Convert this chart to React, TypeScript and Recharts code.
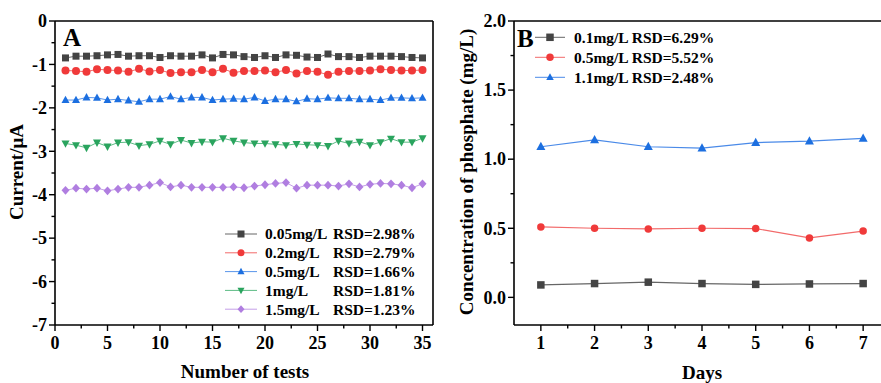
import React from "react";
import { LineChart, Line, XAxis, YAxis, ReferenceLine } from "recharts";

const FONT = '"Liberation Serif", "Times New Roman", serif';

// ---- panel A: repeated tests ----
const testNumbers = [
  1, 2, 3, 4, 5, 6, 7, 8, 9, 10, 11, 12, 13, 14, 15, 16, 17, 18,
  19, 20, 21, 22, 23, 24, 25, 26, 27, 28, 29, 30, 31, 32, 33, 34, 35,
];
const conc005 = [
  -0.85, -0.81, -0.81, -0.8, -0.78, -0.77, -0.81, -0.8, -0.8, -0.84, -0.8, -0.81,
  -0.81, -0.78, -0.85, -0.77, -0.78, -0.82, -0.84, -0.8, -0.84, -0.78, -0.79, -0.83,
  -0.84, -0.76, -0.82, -0.82, -0.84, -0.81, -0.81, -0.81, -0.82, -0.84, -0.85,
];
const conc02 = [
  -1.14, -1.15, -1.17, -1.11, -1.13, -1.14, -1.17, -1.1, -1.16, -1.13, -1.2, -1.18,
  -1.18, -1.13, -1.18, -1.1, -1.19, -1.15, -1.15, -1.14, -1.18, -1.13, -1.21, -1.15,
  -1.17, -1.24, -1.17, -1.15, -1.15, -1.14, -1.11, -1.13, -1.14, -1.14, -1.13,
];
const conc05 = [
  -1.82, -1.82, -1.76, -1.77, -1.82, -1.8, -1.83, -1.86, -1.8, -1.8, -1.74, -1.8,
  -1.76, -1.76, -1.82, -1.8, -1.79, -1.8, -1.76, -1.84, -1.8, -1.8, -1.85, -1.79,
  -1.8, -1.77, -1.78, -1.78, -1.8, -1.8, -1.82, -1.77, -1.77, -1.78, -1.77,
];
const conc1 = [
  -2.82, -2.86, -2.92, -2.8, -2.89, -2.8, -2.79, -2.87, -2.84, -2.76, -2.84, -2.74,
  -2.81, -2.78, -2.79, -2.7, -2.76, -2.8, -2.82, -2.82, -2.84, -2.86, -2.83, -2.85,
  -2.86, -2.88, -2.76, -2.82, -2.78, -2.86, -2.79, -2.71, -2.79, -2.79, -2.7,
];
const conc15 = [
  -3.9, -3.85, -3.87, -3.85, -3.91, -3.87, -3.83, -3.83, -3.78, -3.72, -3.82, -3.78,
  -3.83, -3.83, -3.83, -3.83, -3.82, -3.84, -3.8, -3.77, -3.74, -3.72, -3.85, -3.78,
  -3.78, -3.78, -3.8, -3.75, -3.82, -3.76, -3.74, -3.75, -3.78, -3.84, -3.75,
];
const xTicksA = [0, 2.5, 5, 7.5, 10, 12.5, 15, 17.5, 20, 22.5, 25, 27.5, 30, 32.5, 35];
const xMajorA = [0, 5, 10, 15, 20, 25, 30, 35];
const yTicksA = [-7, -6.5, -6, -5.5, -5, -4.5, -4, -3.5, -3, -2.5, -2, -1.5, -1, -0.5, 0];
const yMajorA = [-7, -6, -5, -4, -3, -2, -1, 0];

// ---- panel B: stability over days ----
const days = [1, 2, 3, 4, 5, 6, 7];
const phos01 = [0.09, 0.1, 0.11, 0.1, 0.094, 0.097, 0.1];
const phos05 = [0.51, 0.5, 0.495, 0.5, 0.498, 0.43, 0.48];
const phos11 = [1.09, 1.14, 1.09, 1.08, 1.12, 1.13, 1.15];
const xTicksB = [1, 1.5, 2, 2.5, 3, 3.5, 4, 4.5, 5, 5.5, 6, 6.5, 7];
const xMajorB = [1, 2, 3, 4, 5, 6, 7];
const yTicksB = [0, 0.25, 0.5, 0.75, 1, 1.25, 1.5, 1.75, 2];
const yMajorB = [0, 0.5, 1, 1.5, 2];

type Shape = "square" | "circle" | "triangle" | "down" | "diamond";

const seriesA = [
  { key: "c005", name: "0.05mg/L", rsd: "RSD=2.98%", values: conc005, fill: "#444444", line: "#666666", shape: "square" as Shape },
  { key: "c02", name: "0.2mg/L", rsd: "RSD=2.79%", values: conc02, fill: "#f03a3a", line: "#f26a6a", shape: "circle" as Shape },
  { key: "c05", name: "0.5mg/L", rsd: "RSD=1.66%", values: conc05, fill: "#1c6fe0", line: "#5a95ea", shape: "triangle" as Shape },
  { key: "c1", name: "1mg/L", rsd: "RSD=1.81%", values: conc1, fill: "#2aa45e", line: "#5cbb85", shape: "down" as Shape },
  { key: "c15", name: "1.5mg/L", rsd: "RSD=1.23%", values: conc15, fill: "#b07ee0", line: "#c49fe8", shape: "diamond" as Shape },
];

const seriesB = [
  { key: "p01", label: "0.1mg/L RSD=6.29%", values: phos01, fill: "#444444", line: "#666666", shape: "square" as Shape },
  { key: "p05", label: "0.5mg/L RSD=5.52%", values: phos05, fill: "#f03a3a", line: "#f26a6a", shape: "circle" as Shape },
  { key: "p11", label: "1.1mg/L RSD=2.48%", values: phos11, fill: "#1c6fe0", line: "#4a8ae8", shape: "triangle" as Shape },
];

const rowsA = testNumbers.map((n, i) => {
  const row: Record<string, number> = { n };
  seriesA.forEach((s) => (row[s.key] = s.values[i]));
  return row;
});

const rowsB = days.map((d, i) => {
  const row: Record<string, number> = { d };
  seriesB.forEach((s) => (row[s.key] = s.values[i]));
  return row;
});

function Marker({ cx, cy, shape, color, size }: { cx: number; cy: number; shape: Shape; color: string; size: number }) {
  const r = size / 2;
  if (cx == null || cy == null) return null;
  switch (shape) {
    case "square":
      return <rect x={cx - r} y={cy - r} width={size} height={size} fill={color} />;
    case "circle":
      return <circle cx={cx} cy={cy} r={r} fill={color} />;
    case "triangle":
      return <polygon points={`${cx},${cy - r * 1.1} ${cx + r},${cy + r * 0.75} ${cx - r},${cy + r * 0.75}`} fill={color} />;
    case "down":
      return <polygon points={`${cx},${cy + r * 1.1} ${cx + r},${cy - r * 0.75} ${cx - r},${cy - r * 0.75}`} fill={color} />;
    default:
      return <polygon points={`${cx},${cy - r * 1.1} ${cx + r},${cy} ${cx},${cy + r * 1.1} ${cx - r},${cy}`} fill={color} />;
  }
}

const axisStyle = { stroke: "#000", strokeWidth: 1.6 };
const tickText = { fontFamily: FONT, fontWeight: 700, fontSize: 18, fill: "#000" };

function BottomTick(props: any) {
  const { x, y, payload, majors } = props;
  const major = majors.includes(payload.value);
  return (
    <g>
      <line x1={x} x2={x} y1={y} y2={y + (major ? 6 : 3.5)} stroke="#000" strokeWidth={1.4} />
      {major && (
        <text x={x} y={y + 24} textAnchor="middle" {...tickText}>
          {payload.value}
        </text>
      )}
    </g>
  );
}

function LeftTick(props: any) {
  const { x, y, payload, majors, digits } = props;
  const major = majors.includes(payload.value);
  return (
    <g>
      <line x1={x} x2={x - (major ? 6 : 3.5)} y1={y} y2={y} stroke="#000" strokeWidth={1.4} />
      {major && (
        <text x={x - 8} y={y} dy="0.35em" textAnchor="end" {...tickText}>
          {payload.value.toFixed(digits)}
        </text>
      )}
    </g>
  );
}

const titleStyle = { fontFamily: FONT, fontWeight: 700, fontSize: 19, fill: "#000" };
const legendStyle = { fontFamily: FONT, fontWeight: 700, fontSize: 15.5, fill: "#000" };

export default function App() {
  return (
    <div style={{ position: "absolute", left: 0, top: 0, width: 881, height: 383, overflow: "hidden", background: "#fff" }}>
      <div style={{ position: "absolute", left: 0, top: 0 }}>
        <LineChart width={450} height={383} data={rowsA} margin={{ top: 21, right: 17, bottom: 0, left: 0 }}>
          <XAxis
            dataKey="n"
            type="number"
            domain={[0, 36]}
            ticks={xTicksA}
            interval={0}
            height={58}
            tickSize={0}
            tickMargin={0}
            tickLine={false}
            axisLine={axisStyle}
            tick={<BottomTick majors={xMajorA} />}
          />
          <YAxis
            type="number"
            domain={[-7, 0]}
            ticks={yTicksA}
            interval={0}
            width={55}
            tickSize={0}
            tickMargin={0}
            tickLine={false}
            axisLine={axisStyle}
            tick={<LeftTick majors={yMajorA} digits={0} />}
          />
          <ReferenceLine y={0} stroke="#000" strokeWidth={1.6} />
          <ReferenceLine x={36} stroke="#000" strokeWidth={1.6} />
          {seriesA.map((s) => (
            <Line
              key={s.key}
              dataKey={s.key}
              stroke={s.line}
              strokeWidth={1}
              isAnimationActive={false}
              dot={(p: any) => <Marker key={`${s.key}-${p.index}`} cx={p.cx} cy={p.cy} shape={s.shape} color={s.fill} size={s.shape === "square" ? 7 : 8} />}
            />
          ))}
        </LineChart>
      </div>

      <div style={{ position: "absolute", left: 450, top: 0 }}>
        <LineChart width={460} height={383} data={rowsB} margin={{ top: 21, right: 20, bottom: 0, left: 0 }}>
          <XAxis
            dataKey="d"
            type="number"
            domain={[0.5, 7.5]}
            ticks={xTicksB}
            interval={0}
            height={58}
            tickSize={0}
            tickMargin={0}
            tickLine={false}
            axisLine={axisStyle}
            tick={<BottomTick majors={xMajorB} />}
          />
          <YAxis
            type="number"
            domain={[-0.2, 2]}
            ticks={yTicksB}
            interval={0}
            width={64}
            tickSize={0}
            tickMargin={0}
            tickLine={false}
            axisLine={axisStyle}
            tick={<LeftTick majors={yMajorB} digits={1} />}
          />
          <ReferenceLine y={2} stroke="#000" strokeWidth={1.6} />
          {seriesB.map((s) => (
            <Line
              key={s.key}
              dataKey={s.key}
              stroke={s.line}
              strokeWidth={1.2}
              isAnimationActive={false}
              dot={(p: any) => <Marker key={`${s.key}-${p.index}`} cx={p.cx} cy={p.cy} shape={s.shape} color={s.fill} size={s.shape === "triangle" ? 9 : 7.5} />}
            />
          ))}
        </LineChart>
      </div>

      <svg width={881} height={383} style={{ position: "absolute", left: 0, top: 0, pointerEvents: "none" }}>
        <text x={63} y={46} fontFamily={FONT} fontWeight={700} fontSize={25}>A</text>
        <text x={517} y={47} fontFamily={FONT} fontWeight={700} fontSize={25}>B</text>
        <text transform="translate(23,172) rotate(-90)" textAnchor="middle" {...titleStyle}>Current/μA</text>
        <text x={245} y={378} textAnchor="middle" {...titleStyle}>Number of tests</text>
        <text transform="translate(473,172) rotate(-90)" textAnchor="middle" {...titleStyle}>Concentration of phosphate (mg/L)</text>
        <text x={702} y={379} textAnchor="middle" {...titleStyle}>Days</text>

        {seriesA.map((s, i) => {
          const y = 234 + i * 18.8;
          return (
            <g key={s.key}>
              <line x1={225} x2={257} y1={y} y2={y} stroke={s.line} strokeWidth={1} />
              <Marker cx={241} cy={y} shape={s.shape} color={s.fill} size={7} />
              <text x={265} y={y} dy="0.35em" {...legendStyle}>{s.name}</text>
              <text x={333} y={y} dy="0.35em" {...legendStyle}>{s.rsd}</text>
            </g>
          );
        })}

        {seriesB.map((s, i) => {
          const y = 37.3 + i * 20;
          return (
            <g key={s.key}>
              <line x1={535} x2={565} y1={y} y2={y} stroke={s.line} strokeWidth={1} />
              <Marker cx={550} cy={y} shape={s.shape} color={s.fill} size={7.5} />
              <text x={574} y={y} dy="0.35em" {...legendStyle}>{s.label}</text>
            </g>
          );
        })}
      </svg>
    </div>
  );
}
